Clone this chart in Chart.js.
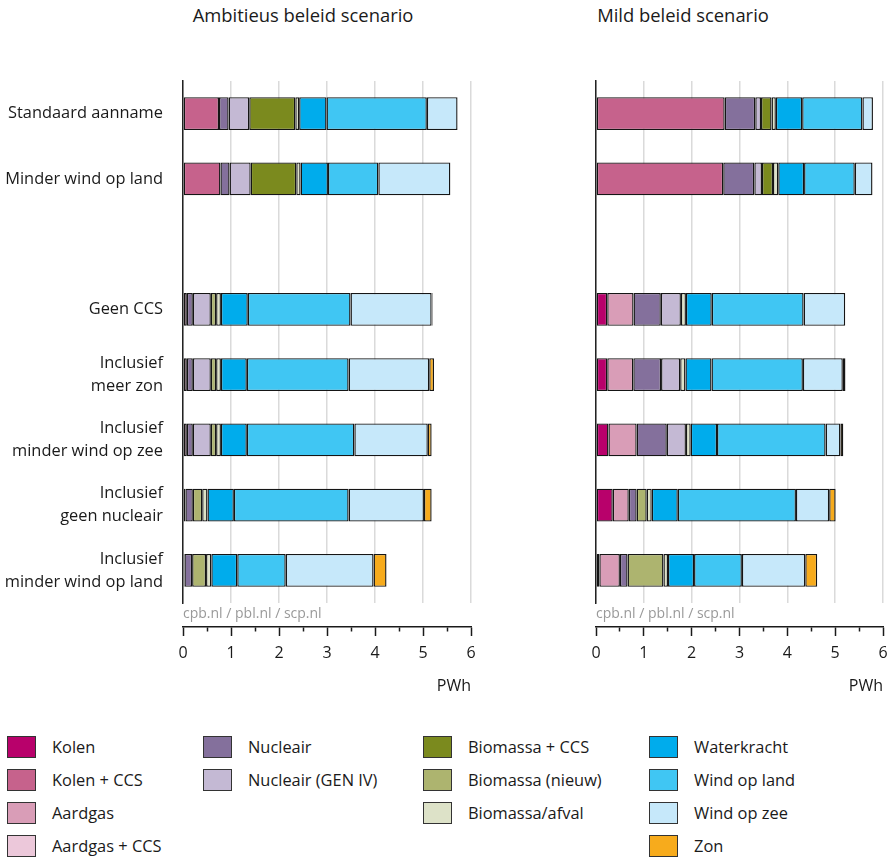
<!DOCTYPE html>
<html>
<head>
<meta charset="utf-8">
<script src="https://cdn.jsdelivr.net/npm/chart.js@4.4.1/dist/chart.umd.min.js"></script>
<style>
  body { margin: 0; background: #fff; font-family: "Open Sans", sans-serif; color: #1a1a1a; }
  #wrap { position: relative; width: 889px; height: 857px; overflow: hidden; }
  .title { position: absolute; top: 2px; font-size: 18.4px; white-space: nowrap; transform: translateX(-50%); }
  canvas { position: absolute; top: 0; }
  .leg { position: absolute; font-size: 16.4px; white-space: nowrap; height: 22px; line-height: 22px; }
  .leg span { position: absolute; left: 0; top: 0; width: 27px; height: 20px; border: 1px solid #333; }
  .leg b { position: absolute; left: 45px; top: 0; font-weight: normal; }
</style>
</head>
<body>
<div id="wrap">
  <div class="title" style="left:303px">Ambitieus beleid scenario</div>
  <div class="title" style="left:683px">Mild beleid scenario</div>
  <canvas id="left" width="480" height="720" style="left:0"></canvas>
  <canvas id="right" width="409" height="720" style="left:480px"></canvas>
  <div id="legend"></div>
</div>
<script>
// categories (empty one is the gap between the two groups)
const categories = [
  'Standaard aanname',
  'Minder wind op land',
  '',
  'Geen CCS',
  ['Inclusief', 'meer zon'],
  ['Inclusief', 'minder wind op zee'],
  ['Inclusief', 'geen nucleair'],
  ['Inclusief', 'minder wind op land']
];

const sources = ['Kolen', 'Kolen + CCS', 'Aardgas', 'Aardgas + CCS', 'Nucleair', 'Nucleair (GEN IV)',
  'Biomassa + CCS', 'Biomassa (nieuw)', 'Biomassa/afval', 'Waterkracht', 'Wind op land', 'Wind op zee', 'Zon'];
const colors = ['#b8016b', '#c6628c', '#d99db7', '#ecc8da', '#84709c', '#c4b9d4',
  '#7b8a1e', '#adb46f', '#dde2c8', '#00acec', '#40c6f3', '#c6e8fa', '#f7ab1c'];
const legendColumn = [0, 0, 0, 0, 1, 1, 2, 2, 2, 3, 3, 3, 3];

// PWh per source (same order as sources), one value per category
const ambitieus = [
  [0, 0, 0, 0, 0, 0, 0, 0],
  [0.75, 0.78, 0, 0, 0, 0, 0, 0],
  [0, 0, 0, 0.08, 0.08, 0.08, 0.05, 0.03],
  [0, 0, 0, 0, 0, 0, 0, 0],
  [0.20, 0.19, 0, 0.125, 0.125, 0.125, 0.155, 0.16],
  [0.43, 0.44, 0, 0.375, 0.375, 0.375, 0, 0],
  [0.96, 0.95, 0, 0, 0, 0, 0, 0],
  [0, 0, 0, 0.11, 0.11, 0.11, 0.195, 0.29],
  [0.08, 0.09, 0, 0.10, 0.10, 0.10, 0.11, 0.11],
  [0.57, 0.57, 0, 0.56, 0.54, 0.54, 0.55, 0.54],
  [2.09, 1.05, 0, 2.14, 2.12, 2.24, 2.39, 1.01],
  [0.64, 1.50, 0, 1.69, 1.68, 1.53, 1.57, 1.83],
  [0, 0, 0, 0.02, 0.10, 0.08, 0.16, 0.27]
];
const mild = [
  [0, 0, 0, 0.235, 0.235, 0.26, 0.35, 0.07],
  [2.69, 2.66, 0, 0, 0, 0, 0, 0],
  [0, 0, 0, 0.55, 0.545, 0.59, 0.335, 0.43],
  [0, 0, 0, 0, 0, 0, 0, 0],
  [0.64, 0.65, 0, 0.57, 0.58, 0.63, 0.165, 0.16],
  [0.12, 0.16, 0, 0.42, 0.40, 0.40, 0, 0],
  [0.22, 0.23, 0, 0, 0, 0, 0, 0],
  [0, 0, 0, 0, 0, 0, 0.21, 0.75],
  [0.09, 0.11, 0, 0.105, 0.11, 0.10, 0.105, 0.095],
  [0.55, 0.54, 0, 0.54, 0.545, 0.55, 0.545, 0.545],
  [1.26, 1.06, 0, 1.92, 1.91, 2.27, 2.47, 1.00],
  [0.22, 0.37, 0, 0.87, 0.835, 0.31, 0.695, 1.325],
  [0, 0, 0, 0, 0.055, 0.06, 0.135, 0.25]
];

const xMax = 6;
const FONT = 'Open Sans';

// keep the plot edges where the layout padding puts them
function noSidePadding(s) { s.paddingLeft = 0; s.paddingRight = 0; }

function makeChart(id, values, showLabels, yWidth, padRight) {
  return new Chart(document.getElementById(id), {
    type: 'bar',
    data: {
      labels: categories,
      datasets: sources.map((name, i) => ({
        label: name,
        data: values[i],
        backgroundColor: colors[i],
        borderColor: '#151515',
        borderWidth: 1.4,
        borderSkipped: false,
        barPercentage: 0.505,
        categoryPercentage: 1
      }))
    },
    options: {
      indexAxis: 'y',
      responsive: false,
      animation: false,
      layout: { padding: { top: 81, right: padRight, bottom: 0, left: 0 } },
      plugins: { legend: { display: false }, tooltip: { enabled: false } },
      scales: {
        y: {
          stacked: true,
          grid: { display: false, drawTicks: false },
          border: { display: true, color: '#222', width: 1.5 },
          ticks: { display: showLabels, color: '#1a1a1a', padding: 20,
                   font: { family: FONT, size: 16.4, lineHeight: 1.4 } },
          afterFit: s => { s.width = yWidth; }
        },
        x: {
          stacked: true, min: 0, max: xMax, weight: 0,
          grid: { color: '#dadada', lineWidth: 1.5, drawTicks: false },
          border: { display: false },
          ticks: { display: false, stepSize: 1 },
          title: { display: true, text: 'cpb.nl / pbl.nl / scp.nl', align: 'start', color: '#999',
                   font: { family: FONT, size: 14 }, padding: { top: 0, bottom: 5 } },
          afterFit: s => { s.height = 24; noSidePadding(s); }
        },
        x2: {
          type: 'linear', position: 'bottom', min: 0, max: xMax, weight: 1,
          grid: {
            drawOnChartArea: false, tickLength: 9, tickColor: '#1a1a1a', tickWidth: 1.5,
            tickBorderDash: c => (c.tick && c.tick.value % 1 !== 0) ? [4, 100] : []
          },
          border: { display: true, color: '#1a1a1a', width: 1.5 },
          ticks: {
            stepSize: 0.5, autoSkip: false, maxRotation: 0, padding: 8, color: '#1a1a1a',
            font: { family: FONT, size: 16 },
            callback: v => Number.isInteger(v) ? String(v) : ''
          },
          title: { display: true, text: 'PWh', align: 'end', color: '#1a1a1a',
                   font: { family: FONT, size: 16 }, padding: { top: 0, bottom: 24 } },
          afterFit: s => { s.height = 93; noSidePadding(s); }
        }
      }
    }
  });
}

makeChart('left', ambitieus, true, 183, 9);
makeChart('right', mild, false, 116, 6);

// legend, four columns
const colLeft = [7, 203, 423, 649];
const rowCount = [0, 0, 0, 0];
const legend = document.getElementById('legend');
sources.forEach((name, i) => {
  const c = legendColumn[i];
  const r = rowCount[c]++;
  const item = document.createElement('div');
  item.className = 'leg';
  item.style.left = colLeft[c] + 'px';
  item.style.top = (736 + r * 33) + 'px';
  item.innerHTML = '<span style="background:' + colors[i] + '"></span><b>' + name + '</b>';
  legend.appendChild(item);
});
</script>
</body>
</html>
